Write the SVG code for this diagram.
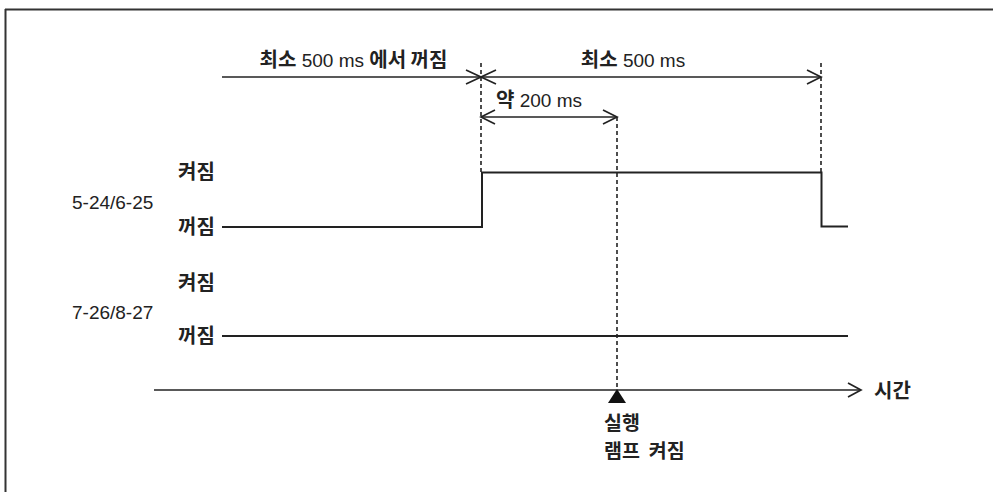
<svg xmlns="http://www.w3.org/2000/svg" width="993" height="492" viewBox="0 0 993 492">
<style>
.t{font-family:"Liberation Sans","Noto Sans CJK KR",Arial,sans-serif;font-size:19px;fill:#222}
.k{font-family:"Noto Sans CJK KR","Liberation Sans",sans-serif;font-weight:bold;font-size:20px}
.ln{stroke:#222;stroke-width:1.7;fill:none}
.sig{stroke:#222;stroke-width:2;fill:none}
.dash{stroke:#222;stroke-width:1.6;fill:none;stroke-dasharray:4 3}
.ah{stroke:#222;stroke-width:1.7;fill:none}
</style>
<rect width="993" height="492" fill="#fff"/>
<g id="frame">
<line x1="5" y1="9.5" x2="993" y2="9.5" stroke="#333" stroke-width="2"/>
<line x1="5.5" y1="9" x2="5.5" y2="492" stroke="#333" stroke-width="2"/>
</g>
<g id="connectors">
<line class="ln" x1="222" y1="77" x2="481" y2="77"/>
<line class="ln" x1="481" y1="77" x2="821" y2="77"/>
<path class="ah" d="M466 70 L481 77 L466 84 M496 70 L481 77 L496 84"/>
<path class="ah" d="M807 70 L821 77 L807 84"/>
<line class="ln" x1="481" y1="117" x2="617" y2="117"/>
<path class="ah" d="M495 110 L481 117 L495 124 M603 110 L617 117 L603 124"/>
<line class="dash" x1="481" y1="63" x2="481" y2="172"/>
<line class="dash" x1="821" y1="63" x2="821" y2="172"/>
<line class="dash" x1="617" y1="117" x2="617" y2="390"/>
<line class="ln" x1="154" y1="390" x2="860" y2="390"/>
<path class="ah" d="M848 383 L861 390 L848 397"/>
</g>
<g id="signal1">
<path class="sig" d="M222 227 H482 V172.5 H821.5 V226.5 H848"/>
</g>
<g id="signal2">
<line class="sig" x1="222" y1="336" x2="848" y2="336"/>
</g>
<g id="marker">
<polygon points="617,389 626,403 608,403" fill="#111"/>
</g>
<g id="labels">
<text class="t" x="353.5" y="67" text-anchor="middle"><tspan class="k">최소</tspan> 500 ms <tspan class="k">에서 꺼짐</tspan></text>
<text class="t" x="633" y="67" text-anchor="middle"><tspan class="k">최소</tspan> 500 ms</text>
<text class="t" x="496" y="107"><tspan class="k">약</tspan> 200 ms</text>
<text class="t k" x="178" y="179">켜짐</text>
<text class="t k" x="178" y="234">꺼짐</text>
<text class="t" x="72" y="208.5">5-24/6-25</text>
<text class="t k" x="178" y="290">켜짐</text>
<text class="t k" x="178" y="343">꺼짐</text>
<text class="t" x="72" y="318.5">7-26/8-27</text>
<text class="t k" x="874" y="398">시간</text>
<text class="t k" x="604" y="430" style="font-size:19.5px">실행</text>
<text class="t k" x="604" y="458" style="font-size:19.5px" xml:space="preserve">램프  켜짐</text>
</g>
</svg>
